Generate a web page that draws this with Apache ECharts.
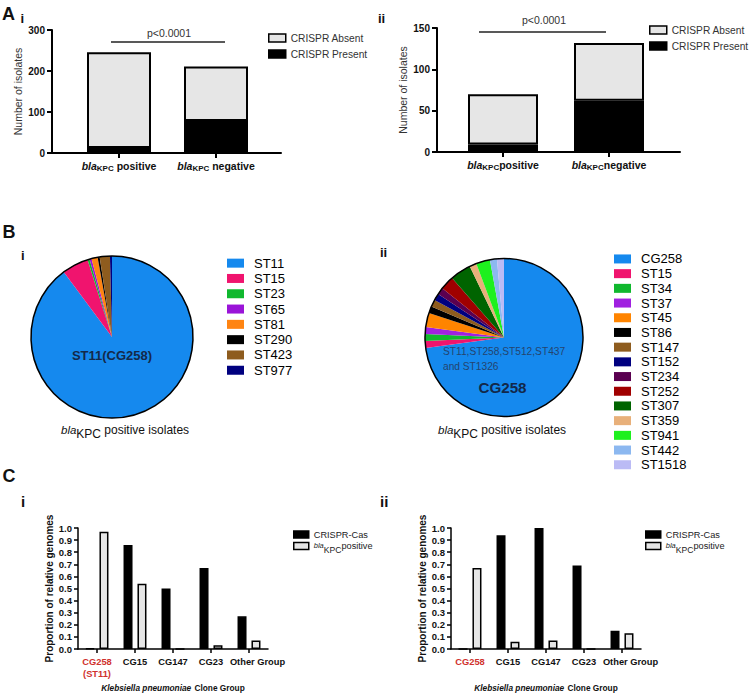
<!DOCTYPE html>
<html><head><meta charset="utf-8">
<script src="https://cdn.jsdelivr.net/npm/echarts/dist/echarts.min.js"></script>
<style>html,body{margin:0;padding:0;background:#fff}#c{width:750px;height:695px}</style>
</head><body><div id="c"></div>
<script>
// ---------------- DATA ----------------
const aCategories = ['positive', 'negative'];
const aiPresent = [12, 78];
const aiAbsent = [234, 133];
const aiiPresent = [9, 62];
const aiiAbsent = [61, 70];
const aiTicks = [0, 100, 200, 300];
const aiiTicks = [0, 50, 100, 150];
const pValueText = 'p<0.0001';

const biNames = ['ST11', 'ST15', 'ST23', 'ST65', 'ST81', 'ST290', 'ST423', 'ST977'];
const biValues = [221, 13, 1, 1, 3, 1, 5, 1];
const biColors = ['#1589EE', '#F0146E', '#10B82E', '#9A14D8', '#FF8412', '#000000', '#8E5C1E', '#00007F'];

const biiNames = ['CG258', 'ST15', 'ST34', 'ST37', 'ST45', 'ST86', 'ST147', 'ST152', 'ST234', 'ST252', 'ST307', 'ST359', 'ST941', 'ST442', 'ST1518'];
const biiValues = [51, 1, 1, 1, 2, 1, 1, 1, 1, 2, 3, 1, 2, 1, 1];
const biiColors = ['#1589EE', '#F0146E', '#10B82E', '#A020E0', '#FF8400', '#000000', '#8E5C1E', '#000080', '#5A0050', '#A00000', '#006400', '#E8B07A', '#1EF01E', '#8CB8F0', '#BBBBF5'];

const cCategories = ['CG258', 'CG15', 'CG147', 'CG23', 'Other Group'];
const ciCrispr = [0.005, 0.86, 0.50, 0.67, 0.27];
const ciKpc = [0.97, 0.54, 0, 0.03, 0.07];
const ciiCrispr = [0, 0.94, 1.0, 0.69, 0.15];
const ciiKpc = [0.67, 0.06, 0.07, 0, 0.13];
const cTicks = [0, 0.1, 0.2, 0.3, 0.4, 0.5, 0.6, 0.7, 0.8, 0.9, 1.0];

// ---------------- STYLE ----------------
const F = "'Liberation Sans', Arial, sans-serif";
const GRAY = '#e6e6e6';

const kpcRichA = {
  i: {fontFamily: F, fontStyle: 'italic', fontWeight: 'bold', fontSize: 10.5, lineHeight: 12, verticalAlign: 'top', color: '#111'},
  s: {fontFamily: F, fontWeight: 'bold', fontSize: 8, lineHeight: 9, padding: [4, 0, 0, 0], verticalAlign: 'top', color: '#111'},
  n: {fontFamily: F, fontWeight: 'bold', fontSize: 10.5, lineHeight: 12, verticalAlign: 'top', color: '#111'}
};
const kpcRichCap = {
  i: {fontFamily: F, fontStyle: 'italic', fontSize: 11.5, lineHeight: 12, verticalAlign: 'top', fill: '#111', color: '#111'},
  s: {fontFamily: F, fontSize: 12, lineHeight: 12, padding: [4, 0, 0, 0], verticalAlign: 'top', fill: '#111', color: '#111'},
  n: {fontFamily: F, fontSize: 12, lineHeight: 12, verticalAlign: 'top', fill: '#111', color: '#111'}
};
const kpcRichLeg = {
  i: {fontFamily: F, fontStyle: 'italic', fontSize: 7.5, lineHeight: 10, verticalAlign: 'top', color: '#222'},
  s: {fontFamily: F, fontSize: 8.6, lineHeight: 10, padding: [4, 0, 0, 0], verticalAlign: 'top', color: '#222'},
  n: {fontFamily: F, fontSize: 9.2, lineHeight: 10, verticalAlign: 'top', color: '#222'},
  t: {fontFamily: F, fontSize: 9.2, lineHeight: 12, verticalAlign: 'middle', color: '#222'}
};

function valueAxisA(grid, ticks, name) {
  return {
    gridIndex: grid, type: 'value', min: ticks[0], max: ticks[ticks.length - 1], interval: ticks[1] - ticks[0],
    axisLine: {show: true, lineStyle: {color: '#000', width: 2}},
    axisTick: {show: true, inside: false, length: 5, lineStyle: {color: '#000', width: 2}},
    axisLabel: {margin: 7, fontFamily: F, fontWeight: 'bold', fontSize: 10, color: '#111'},
    splitLine: {show: false},
    name: name, nameLocation: 'middle', nameGap: 29, nameRotate: 90,
    nameTextStyle: {fontFamily: F, fontSize: 10.5, color: '#333'}
  };
}
function hiddenY(grid, ticks) {
  return {gridIndex: grid, type: 'value', min: ticks[0], max: ticks[ticks.length - 1], show: false};
}
function lineX(grid) {
  return {gridIndex: grid, type: 'value', min: 0, max: 1,
    axisLine: {show: true, onZero: false, lineStyle: {color: '#000', width: 2}},
    axisTick: {show: false}, axisLabel: {show: false}, splitLine: {show: false}};
}
function catXA(grid, space) {
  return {gridIndex: grid, type: 'category', data: aCategories,
    axisLine: {show: false}, axisTick: {show: true, alignWithLabel: true, length: 5, lineStyle: {color: '#000', width: 2}},
    axisLabel: {margin: 7, interval: 0, formatter: v => '{i|bla}{s|KPC}{n|' + space + v + '}', rich: kpcRichA}};
}
function catXC(grid, redLabel) {
  return {gridIndex: grid, type: 'category', data: cCategories,
    axisLine: {show: true, lineStyle: {color: '#000', width: 1.5}},
    axisTick: {show: true, alignWithLabel: true, length: 4, lineStyle: {color: '#000', width: 1.5}},
    axisLabel: {margin: 7, interval: 0,
      formatter: v => v === 'CG258' ? redLabel : (v === 'Other Group' ? '{o|' + v + '}' : '{b|' + v + '}'),
      rich: {
        b: {fontFamily: F, fontWeight: 'bold', fontSize: 9.3, color: '#111', lineHeight: 12},
        o: {fontFamily: F, fontWeight: 'bold', fontSize: 9.3, color: '#111', lineHeight: 12, padding: [0, 0, 0, 17]},
        r: {fontFamily: F, fontWeight: 'bold', fontSize: 9.3, color: '#d0312d', lineHeight: 12}
      }},
    name: '{it|Klebsiella pneumoniae} {b|Clone Group}', nameLocation: 'middle', nameGap: 33,
    nameTextStyle: {rich: {
      it: {fontFamily: F, fontStyle: 'italic', fontWeight: 'bold', fontSize: 8.3, color: '#111'},
      b: {fontFamily: F, fontWeight: 'bold', fontSize: 8.3, color: '#111'}
    }}};
}
function valueAxisC(grid) {
  return {gridIndex: grid, type: 'value', min: cTicks[0], max: cTicks[cTicks.length - 1],
    interval: Math.round((cTicks[1] - cTicks[0]) * 10) / 10,
    axisLine: {show: true, lineStyle: {color: '#000', width: 1.5}},
    axisTick: {show: true, length: 4, lineStyle: {color: '#000', width: 1.5}},
    axisLabel: {margin: 6, fontFamily: F, fontWeight: 'bold', fontSize: 9.5, color: '#111', formatter: v => v.toFixed(1)},
    splitLine: {show: false},
    name: 'Proportion of relative genomes', nameLocation: 'middle', nameGap: 21, nameRotate: 90,
    nameTextStyle: {fontFamily: F, fontWeight: 'bold', fontSize: 10, color: '#111'}};
}
function pieData(names, values, colors) {
  return names.map((n, k) => ({name: n, value: values[k], itemStyle: {color: colors[k]}}));
}
function legendA(left, top) {
  return {data: ['CRISPR Absent', 'CRISPR Present'], left: left, top: top, orient: 'vertical', padding: 0,
    itemWidth: 17, itemHeight: 8, itemGap: 4, icon: 'rect', selectedMode: false,
    itemStyle: {borderColor: '#000', borderWidth: 1.5},
    textStyle: {fontFamily: F, fontSize: 10.2, lineHeight: 12, color: '#333'}};
}
function legendB(names, left, top, lh) {
  return {data: names, left: left, top: top, orient: 'vertical', padding: 0,
    itemWidth: 17, itemHeight: 9, itemGap: 0, icon: 'rect', selectedMode: false,
    itemStyle: {borderWidth: 0},
    textStyle: {fontFamily: F, fontSize: 13, lineHeight: lh, color: '#000', padding: [0, 0, 0, 5]}};
}
function legendC(left, top) {
  return {data: ['CRISPR-Cas', 'blaKPC positive'], left: left, top: top, orient: 'vertical', padding: 0,
    itemWidth: 15, itemHeight: 7, itemGap: 2, icon: 'rect', selectedMode: false,
    itemStyle: {borderColor: '#000', borderWidth: 1.5},
    formatter: n => n === 'blaKPC positive' ? '{i|bla}{s|KPC}{n|positive}' : '{t|' + n + '}',
    textStyle: {fontFamily: F, fontSize: 9.2, color: '#222', rich: kpcRichLeg}};
}
function txt(text, x, y, font, fill) {
  return {type: 'text', x: x, y: y, z: 100, silent: true,
    style: {text: text, font: font, fill: fill || '#111', align: 'left', textAlign: 'left', verticalAlign: 'middle', textVerticalAlign: 'middle'}};
}
function ctxt(text, x, y, font, fill) {
  return {type: 'text', x: x, y: y, z: 100, silent: true,
    style: {text: text, font: font, fill: fill, align: 'center', textAlign: 'center', verticalAlign: 'middle', textVerticalAlign: 'middle'}};
}
function hline(x1, x2, y) {
  return {type: 'line', silent: true, z: 100, shape: {x1: x1, y1: y, x2: x2, y2: y}, style: {stroke: '#222', lineWidth: 1.5}};
}

const barBorder = {borderColor: '#000', borderWidth: 2};
const barBorderC = {borderColor: '#000', borderWidth: 1.5};

const option = {
  animation: false,
  backgroundColor: '#fff',
  grid: [
    {left: 52, top: 30, width: 229, height: 123},
    {left: 70.5, top: 30, width: 194, height: 123},
    {left: 437, top: 28, width: 243, height: 124},
    {left: 450, top: 28, width: 212, height: 124},
    {left: 78, top: 528, width: 190, height: 123},
    {left: 451, top: 528, width: 190, height: 123}
  ],
  xAxis: [lineX(0), catXA(1, ' '), lineX(2), catXA(3, ''), catXC(4, '{r|CG258}\n{r|(ST11)}'), catXC(5, '{r|CG258}')],
  yAxis: [valueAxisA(0, aiTicks, 'Number of isolates'), hiddenY(1, aiTicks),
          valueAxisA(2, aiiTicks, 'Number of isolates'), hiddenY(3, aiiTicks),
          valueAxisC(4), valueAxisC(5)],
  legend: [legendA(268, 32), legendA(649, 24),
           legendB(biNames, 227, 255.5, 15.3), legendB(biiNames, 614, 251.6, 14.7),
           legendC(293, 530), legendC(645, 530)],
  series: [
    {type: 'bar', name: 'CRISPR Present', stack: 'ai', xAxisIndex: 1, yAxisIndex: 1, data: aiPresent, barWidth: 64, itemStyle: Object.assign({color: '#000'}, barBorder)},
    {type: 'bar', name: 'CRISPR Absent', stack: 'ai', xAxisIndex: 1, yAxisIndex: 1, data: aiAbsent, barWidth: 64, itemStyle: Object.assign({color: GRAY}, barBorder)},
    {type: 'bar', name: 'CRISPR Present', stack: 'aii', xAxisIndex: 3, yAxisIndex: 3, data: aiiPresent, barWidth: 70, itemStyle: Object.assign({color: '#000'}, barBorder)},
    {type: 'bar', name: 'CRISPR Absent', stack: 'aii', xAxisIndex: 3, yAxisIndex: 3, data: aiiAbsent, barWidth: 70, itemStyle: Object.assign({color: GRAY}, barBorder)},
    {type: 'pie', name: 'Bi', center: [112, 337], radius: 81, startAngle: 90, clockwise: true, silent: true,
      label: {show: false}, labelLine: {show: false}, itemStyle: {borderWidth: 0}, data: pieData(biNames, biValues, biColors)},
    {type: 'pie', name: 'Bi-outline', center: [112, 337], radius: 81, silent: true, z: 3, label: {show: false}, labelLine: {show: false},
      data: [{value: 1, name: '', itemStyle: {color: 'rgba(0,0,0,0)', borderColor: '#000', borderWidth: 1.5}}]},
    {type: 'pie', name: 'Bii', center: [504, 337.5], radius: 79, startAngle: 90, clockwise: true, silent: true,
      label: {show: false}, labelLine: {show: false}, itemStyle: {borderWidth: 0}, data: pieData(biiNames, biiValues, biiColors)},
    {type: 'pie', name: 'Bii-outline', center: [504, 337.5], radius: 79, silent: true, z: 3, label: {show: false}, labelLine: {show: false},
      data: [{value: 1, name: '', itemStyle: {color: 'rgba(0,0,0,0)', borderColor: '#000', borderWidth: 1.5}}]},
    {type: 'bar', name: 'CRISPR-Cas', xAxisIndex: 4, yAxisIndex: 4, data: ciCrispr, barWidth: 9, barGap: '55%', itemStyle: Object.assign({color: '#000'}, barBorderC)},
    {type: 'bar', name: 'blaKPC positive', xAxisIndex: 4, yAxisIndex: 4, data: ciKpc, barWidth: 9, barGap: '55%', itemStyle: Object.assign({color: GRAY}, barBorderC)},
    {type: 'bar', name: 'CRISPR-Cas', xAxisIndex: 5, yAxisIndex: 5, data: ciiCrispr, barWidth: 9, barGap: '55%', itemStyle: Object.assign({color: '#000'}, barBorderC)},
    {type: 'bar', name: 'blaKPC positive', xAxisIndex: 5, yAxisIndex: 5, data: ciiKpc, barWidth: 9, barGap: '55%', itemStyle: Object.assign({color: GRAY}, barBorderC)}
  ],
  graphic: [
    txt('A', 2, 13.5, 'bold 18px ' + F),
    txt('i', 20.5, 18, 'bold 13px ' + F),
    txt('ii', 378, 18, 'bold 13px ' + F),
    txt('B', 2.5, 231.5, 'bold 18px ' + F),
    txt('i', 21, 255, 'bold 13px ' + F),
    txt('ii', 380, 252, 'bold 13px ' + F),
    txt('C', 2.5, 476, 'bold 18px ' + F),
    txt('i', 21, 501, 'bold 15px ' + F),
    txt('ii', 380, 501, 'bold 15px ' + F),
    ctxt(pValueText, 169, 33, '10.5px ' + F, '#333'),
    hline(111, 225, 42),
    ctxt(pValueText, 544, 19.5, '10.5px ' + F, '#333'),
    hline(479, 606, 32),
    {type: 'text', x: 61, y: 423.7, z: 100, silent: true, style: {text: '{i|bla}{s|KPC}{n| positive isolates}', rich: kpcRichCap, fill: '#111', font: '12px ' + F}},
    {type: 'text', x: 438, y: 423.7, z: 100, silent: true, style: {text: '{i|bla}{s|KPC}{n| positive isolates}', rich: kpcRichCap, fill: '#111', font: '12px ' + F}},
    ctxt('ST11(CG258)', 112, 355, 'bold 13px ' + F, '#14294a'),
    txt('ST11,ST258,ST512,ST437', 443, 351, '10.2px ' + F, '#24446e'),
    txt('and ST1326', 443, 366, '10.2px ' + F, '#24446e'),
    ctxt('CG258', 502.5, 387, 'bold 15.2px ' + F, '#12284a')
  ]
};

const chart = echarts.init(document.getElementById('c'), null, {renderer: 'svg', width: 750, height: 695});
chart.setOption(option);
</script>
</body></html>
